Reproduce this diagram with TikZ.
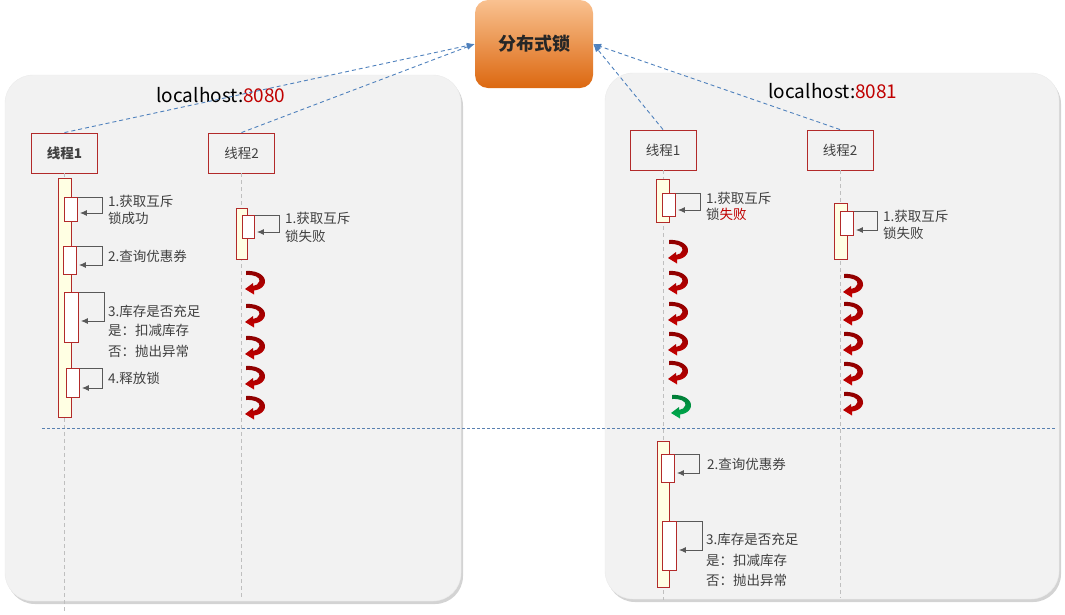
\documentclass[tikz,border=0pt]{standalone}
\usepackage{fontspec}
\setmainfont{Noto Sans CJK SC}
\usetikzlibrary{arrows.meta,shadows,calc}
\definecolor{panelbg}{HTML}{F2F2F2}
\definecolor{boxred}{HTML}{B22A2A}
\definecolor{barfill}{HTML}{FFFFE3}
\definecolor{loopgray}{HTML}{595959}
\definecolor{lifegray}{HTML}{BFBFBF}
\definecolor{linkblue}{HTML}{4F81BD}
\definecolor{portred}{HTML}{C00000}
\definecolor{txtgray}{HTML}{404040}
\definecolor{curlred}{HTML}{C80000}
\definecolor{curldark}{HTML}{8A0000}
\definecolor{curlgreen}{HTML}{00B050}
\definecolor{curlgreendark}{HTML}{007A35}
\definecolor{locktop}{HTML}{F9C190}
\definecolor{lockbot}{HTML}{DC6810}
\begin{document}
\begin{tikzpicture}[x=1pt,y=-1pt,
  panel/.style={fill=panelbg,draw=black!8,rounded corners=28pt,drop shadow={shadow xshift=2pt,shadow yshift=-3pt,opacity=0.35}},
  threadbox/.style={draw=boxred,line width=0.9pt,minimum width=66pt,minimum height=40pt,inner sep=0pt,font=\fontsize{13.5}{15}\selectfont,text=txtgray},
  actbar/.style={draw=boxred,fill=barfill,line width=0.9pt,anchor=north west,inner sep=0pt,minimum width=13pt},
  actbox/.style={draw=boxred,fill=white,line width=0.9pt,anchor=north west,inner sep=0pt,minimum width=13pt},
  lifeline/.style={draw=lifegray,dash pattern=on 4pt off 3pt,line width=0.8pt},
  loopline/.style={draw=loopgray,line width=1pt,-{Latex[length=7pt,width=6pt]}},
  lbl/.style={anchor=west,inner sep=0pt,font=\fontsize{13.5}{15}\selectfont,text=txtgray},
  link/.style={draw=linkblue,line width=0.9pt,dash pattern=on 4pt off 3pt,-{Latex[length=8pt,width=6pt]}},
  host/.style={inner sep=0pt,font=\fontsize{19}{22}\selectfont},
  curlshape/.style={},
  redcurl/.pic={
    \shade[top color=curldark,bottom color=curlred] (1,0) .. controls (16,-1) and (23,8) .. (19,14)
      .. controls (17,17.5) and (13,19) .. (9,19.5) -- (9,23.5) -- (0,18) -- (8,12) -- (8,15)
      .. controls (11,14.5) and (14,13) .. (14.5,10) .. controls (15,6) and (9,3.5) .. (1,4) -- cycle;
  },
  greencurl/.pic={
    \shade[top color=curlgreendark,bottom color=curlgreen] (1,0) .. controls (16,-1) and (23,8) .. (19,14)
      .. controls (17,17.5) and (13,19) .. (9,19.5) -- (9,23.5) -- (0,18) -- (8,12) -- (8,15)
      .. controls (11,14.5) and (14,13) .. (14.5,10) .. controls (15,6) and (9,3.5) .. (1,4) -- cycle;
  }
]
\useasboundingbox (0,0) rectangle (1065,614);

% panels
\path[panel] (5,75) rectangle (461,601);
\path[panel] (605,73) rectangle (1059,599);

% top lock node
\node[draw=none,rounded corners=13pt,top color=locktop,bottom color=lockbot,
  minimum width=118pt,minimum height=88pt,inner sep=0pt,font=\fontsize{18}{20}\selectfont\bfseries,text=black!85]
  (lock) at (534,44) {分布式锁};

% hosts
\node[host] (h1) at (221,95) {localhost:\textcolor{portred}{8080}};
\node[host] (h2) at (833,91) {localhost:\textcolor{portred}{8081}};

% thread boxes
\node[threadbox,font=\fontsize{13.5}{15}\selectfont\bfseries] (lt1) at (64.5,153) {线程1};
\node[threadbox] (lt2) at (241.5,153) {线程2};
\node[threadbox] (rt1) at (663,150) {线程1};
\node[threadbox] (rt2) at (840,150) {线程2};

% lifelines
\coordinate (le1) at (64.5,614);
\coordinate (le2) at (241.5,600);
\coordinate (re1) at (663,600);
\coordinate (re2) at (840,598);
\draw[lifeline] (lt1.south) -- (le1);
\draw[lifeline] (lt2.south) -- (le2);
\draw[lifeline] (rt1.south) -- (re1);
\draw[lifeline] (rt2.south) -- (re2);

% links to lock
\draw[link] (lt1.north) -- (lock.west);
\draw[link] (lt2.north) -- (lock.west);
\draw[link] (rt1.north) -- (lock.east);
\draw[link] (rt2.north) -- (lock.east);

% separator
\coordinate (sepa) at (42,428);
\coordinate (sepb) at (1055,428);
\draw[draw=linkblue!80!gray,dash pattern=on 3pt off 2pt,line width=0.8pt] (sepa) -- (sepb);

% ---------- left thread 1
\node[actbar,minimum height=239pt] (lb1) at (58,178) {};
\node[actbox,minimum height=24pt] (ls1) at (64,197) {};
\draw[loopline] (ls1.north east) -- ++(25,0) -- ++(0,16) -- ++(-23,0);
\node[lbl] (ll1) at (108,201) {1.获取互斥};
\node[lbl] (ll1b) at (108,218) {锁成功};
\node[actbox,minimum height=28pt] (ls2) at (63,246) {};
\draw[loopline] (ls2.north east) -- ++(26,0) -- ++(0,19) -- ++(-24,0);
\node[lbl] (ll2) at (108,256) {2.查询优惠券};
\node[actbox,minimum height=50pt,minimum width=14pt] (ls3) at (64,292) {};
\draw[loopline] (ls3.north east) -- ++(26,0) -- ++(0,29) -- ++(-24,0);
\node[lbl] (ll3) at (108,311) {3.库存是否充足};
\node[lbl] (ll3b) at (108,330) {是：扣减库存};
\node[lbl] (ll3c) at (108,351) {否：抛出异常};
\node[actbox,minimum height=29pt] (ls4) at (66,368) {};
\draw[loopline] (ls4.north east) -- ++(23,0) -- ++(0,20) -- ++(-21,0);
\node[lbl] (ll4) at (108,378) {4.释放锁};

% ---------- left thread 2
\node[actbar,minimum height=51pt,minimum width=11pt] (lb2) at (236,208) {};
\node[actbox,minimum height=23pt,minimum width=12pt] (lsb) at (242,215) {};
\draw[loopline] (lsb.north east) -- ++(25,0) -- ++(0,17) -- ++(-23,0);
\node[lbl] (lf1) at (285,218) {1.获取互斥};
\node[lbl] (lf2) at (285,236) {锁失败};
\foreach \yy in {271,304,336,366,396}
  \pic at (245,\yy) {redcurl};

% ---------- right thread 1
\node[actbar,minimum height=43pt] (rb1) at (656,179) {};
\node[actbox,minimum height=23pt] (rs1) at (662,193) {};
\draw[loopline] (rs1.north east) -- ++(25,0) -- ++(0,17) -- ++(-23,0);
\node[lbl] (rf1) at (706,198) {1.获取互斥};
\node[lbl] (rf2) at (706,214) {锁\textcolor{portred}{失败}};
\foreach \yy in {240,271,302,332,361}
  \pic at (668,\yy) {redcurl};
\pic at (671,395) {greencurl};

% ---------- right thread 2
\node[actbar,minimum height=56pt] (rb2) at (834,203) {};
\node[actbox,minimum height=24pt] (rs2) at (840,211) {};
\draw[loopline] (rs2.north east) -- ++(24,0) -- ++(0,19) -- ++(-22,0);
\node[lbl] (rg1) at (883,216) {1.获取互斥};
\node[lbl] (rg2) at (883,233) {锁失败};
\foreach \yy in {274,302,332,362,392}
  \pic at (843,\yy) {redcurl};

% ---------- right thread 1, after lock
\node[actbar,minimum height=146pt,minimum width=12pt] (rb3) at (657,441) {};
\node[actbox,minimum height=28pt] (rs3) at (661,454) {};
\draw[loopline] (rs3.north east) -- ++(25,0) -- ++(0,19) -- ++(-23,0);
\node[lbl] (rq1) at (707,464) {2.查询优惠券};
\node[actbox,minimum height=49pt,minimum width=14pt] (rs4) at (662,521) {};
\draw[loopline] (rs4.north east) -- ++(26,0) -- ++(0,29) -- ++(-24,0);
\node[lbl] (rq2) at (706,539) {3.库存是否充足};
\node[lbl] (rq3) at (706,560) {是：扣减库存};
\node[lbl] (rq4) at (706,580) {否：抛出异常};
\end{tikzpicture}
\end{document}
